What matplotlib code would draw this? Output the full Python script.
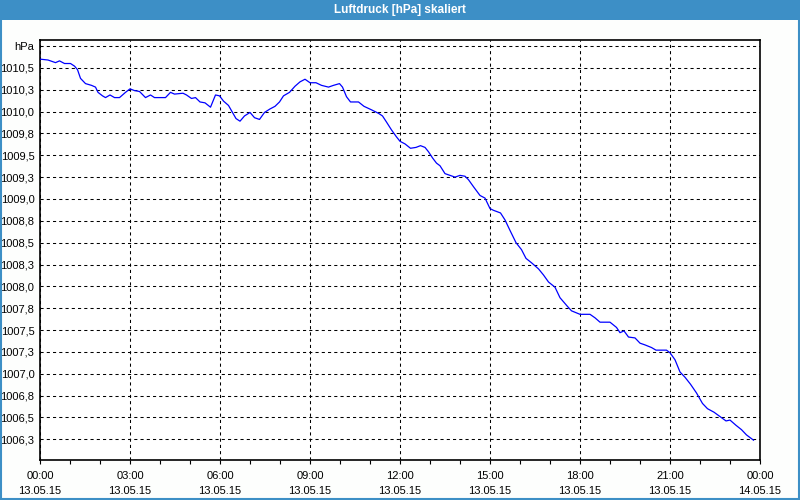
import matplotlib
matplotlib.use("Agg")
import matplotlib.pyplot as plt
from matplotlib.patches import Rectangle
from matplotlib.ticker import FixedLocator, MultipleLocator

plt.rcParams['font.family'] = ['Liberation Sans', 'DejaVu Sans']

# minutes since 13.05.15 00:00
minutes = [0, 16, 31, 39, 49, 61, 69, 75, 81, 91, 103, 111, 116, 125, 131, 140,
           149, 159, 171, 180, 189, 199, 211, 221, 229, 251, 261, 269, 286, 293,
           303, 311, 320, 330, 341, 351, 359, 367, 377, 383, 392, 400, 409, 420,
           429, 439, 449, 460, 470, 479, 487, 499, 510, 520, 530, 540, 552, 563,
           577, 587, 599, 605, 613, 621, 637, 648, 663, 677, 685, 693, 703, 713,
           720, 730, 741, 752, 761, 770, 777, 785, 793, 800, 810, 820, 830, 840,
           850, 857, 867, 880, 890, 900, 907, 921, 930, 940, 952, 963, 972, 983,
           997, 1007, 1017, 1030, 1040, 1055, 1063, 1080, 1100, 1110, 1120, 1140,
           1153, 1160, 1168, 1177, 1190, 1200, 1210, 1223, 1232, 1253, 1260, 1270,
           1280, 1290, 1301, 1313, 1325, 1335, 1348, 1360, 1372, 1380, 1392, 1403,
           1413, 1427]

pressure = [1010.60, 1010.59, 1010.56, 1010.58, 1010.55, 1010.55, 1010.52, 1010.48,
            1010.38, 1010.32, 1010.30, 1010.28, 1010.22, 1010.18, 1010.16, 1010.19,
            1010.16, 1010.16, 1010.22, 1010.26, 1010.24, 1010.23, 1010.16, 1010.19,
            1010.16, 1010.16, 1010.22, 1010.20, 1010.21, 1010.19, 1010.15, 1010.16,
            1010.11, 1010.10, 1010.05, 1010.19, 1010.18, 1010.12, 1010.07, 1010.01,
            1009.92, 1009.89, 1009.95, 1009.99, 1009.93, 1009.91, 1009.99, 1010.03,
            1010.06, 1010.11, 1010.18, 1010.22, 1010.29, 1010.34, 1010.37, 1010.33,
            1010.33, 1010.30, 1010.28, 1010.30, 1010.32, 1010.28, 1010.17, 1010.11,
            1010.11, 1010.06, 1010.02, 1009.98, 1009.95, 1009.88, 1009.79, 1009.71,
            1009.66, 1009.63, 1009.58, 1009.59, 1009.61, 1009.59, 1009.54, 1009.47,
            1009.41, 1009.38, 1009.29, 1009.27, 1009.25, 1009.27, 1009.26, 1009.22,
            1009.14, 1009.04, 1009.01, 1008.89, 1008.87, 1008.84, 1008.76, 1008.64,
            1008.50, 1008.42, 1008.32, 1008.27, 1008.20, 1008.13, 1008.05, 1007.99,
            1007.87, 1007.77, 1007.72, 1007.68, 1007.68, 1007.64, 1007.59, 1007.59,
            1007.53, 1007.47, 1007.49, 1007.42, 1007.41, 1007.35, 1007.33, 1007.30,
            1007.27, 1007.27, 1007.24, 1007.16, 1007.02, 1006.96, 1006.88, 1006.78,
            1006.66, 1006.60, 1006.56, 1006.51, 1006.46, 1006.47, 1006.41, 1006.36,
            1006.30, 1006.24]

y_ticks = [1006.25, 1006.5, 1006.75, 1007.0, 1007.25, 1007.5, 1007.75, 1008.0,
           1008.25, 1008.5, 1008.75, 1009.0, 1009.25, 1009.5, 1009.75, 1010.0,
           1010.25, 1010.5, 1010.75]
y_labels = ['1006,3', '1006,5', '1006,8', '1007,0', '1007,3', '1007,5', '1007,8',
            '1008,0', '1008,3', '1008,5', '1008,8', '1009,0', '1009,3', '1009,5',
            '1009,8', '1010,0', '1010,3', '1010,5', 'hPa']
x_ticks = [0, 180, 360, 540, 720, 900, 1080, 1260, 1440]
x_labels = ['00:00\n13.05.15', '03:00\n13.05.15', '06:00\n13.05.15',
            '09:00\n13.05.15', '12:00\n13.05.15', '15:00\n13.05.15',
            '18:00\n13.05.15', '21:00\n13.05.15', '00:00\n14.05.15']

bar_blue = '#3d8fc6'
bg = '#fdfefd'

fig = plt.figure(figsize=(8, 5), dpi=100, facecolor=bg)

# title bar and window border
fig.patches.append(Rectangle((0, 0.96), 1, 0.04, transform=fig.transFigure,
                             facecolor=bar_blue, edgecolor='none', zorder=0))
fig.patches.append(Rectangle((0.001, 0.002), 0.998, 0.97, transform=fig.transFigure,
                             facecolor='none', edgecolor=bar_blue, lw=1.5, zorder=0))
fig.text(0.5, 0.98, 'Luftdruck [hPa] skaliert', color='white', fontsize=8.5,
         fontweight='bold', ha='center', va='center')

ax = fig.add_axes([0.05, 0.08, 0.9, 0.84])
ax.set_facecolor('white')
ax.plot(minutes, pressure, color='#0000ff', lw=0.9, zorder=3)

ax.set_xlim(0, 1440)
ax.set_ylim(1006.013, 1010.819)

ax.yaxis.set_major_locator(FixedLocator(y_ticks))
ax.set_yticklabels(y_labels)
ax.set_xticks(x_ticks)
ax.set_xticklabels(x_labels)
ax.xaxis.set_minor_locator(MultipleLocator(60))

ax.tick_params(axis='y', length=0, pad=4, labelsize=8, colors='black')
ax.tick_params(axis='x', which='both', direction='out', length=3, width=0.8,
               pad=5, labelsize=8)
for lbl in ax.get_xticklabels():
    lbl.set_linespacing(1.6)

ax.grid(True, which='major', color='black', lw=0.75, linestyle=(0, (3, 3)))
for s in ax.spines.values():
    s.set_color('black')
    s.set_linewidth(1.2)

fig.savefig('out.png', dpi=100, facecolor=bg)
